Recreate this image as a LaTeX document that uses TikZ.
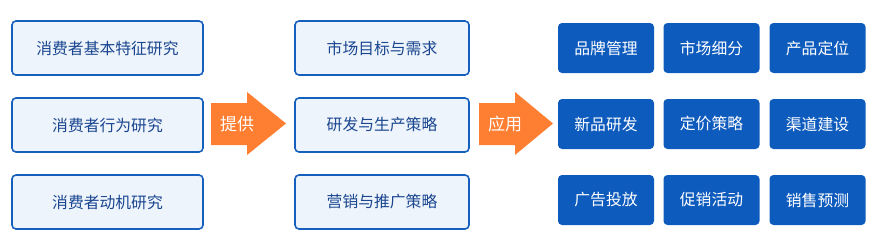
\documentclass[tikz,border=0pt]{standalone}
\usepackage{fontspec}
\setmainfont{Noto Sans CJK SC}
\definecolor{bd}{HTML}{1560BD}
\definecolor{lf}{HTML}{EEF4FB}
\definecolor{tx}{HTML}{1A4690}
\definecolor{df}{HTML}{0E5BBE}
\definecolor{og}{HTML}{FF7F32}
\begin{document}
\begin{tikzpicture}[x=1pt,y=-1pt,
  lbox/.style={draw=bd,line width=1.6pt,fill=lf,rounded corners=4pt,text=tx,font=\fontsize{15.8}{18}\selectfont,inner sep=0pt},
  dbox/.style={fill=df,rounded corners=4pt,text=white,font=\fontsize{15.8}{18}\selectfont,inner sep=0pt,minimum width=96pt,minimum height=50pt},
  alabel/.style={text=white,font=\fontsize{17}{19}\selectfont,anchor=west,inner sep=0pt},
  arr/.style={fill=og}]
\useasboundingbox (0,0) rectangle (879,244);
% left column
\node[lbox,minimum width=191pt,minimum height=54pt] (l1) at (107.5,48) {消费者基本特征研究};
\node[lbox,minimum width=191pt,minimum height=54pt] (l2) at (107.5,125) {消费者行为研究};
\node[lbox,minimum width=191pt,minimum height=54pt] (l3) at (107.5,202) {消费者动机研究};
% middle column
\node[lbox,minimum width=174pt,minimum height=54pt] (m1) at (382,48) {市场目标与需求};
\node[lbox,minimum width=174pt,minimum height=54pt] (m2) at (382,125) {研发与生产策略};
\node[lbox,minimum width=174pt,minimum height=54pt] (m3) at (382,202) {营销与推广策略};
% arrows
\fill[arr] (211,103) -- (247,103) -- (247,92) -- (286,123.5) -- (247,155) -- (247,145) -- (211,145) -- cycle;
\node[alabel] (a1) at (220,124) {提供};
\fill[arr] (479,103) -- (515,103) -- (515,92) -- (553,123.5) -- (515,155) -- (515,145) -- (479,145) -- cycle;
\node[alabel] (a2) at (488,124) {应用};
% right grid
\node[dbox] (r11) at (606,48) {品牌管理};
\node[dbox] (r12) at (711.5,48) {市场细分};
\node[dbox] (r13) at (817.5,48) {产品定位};
\node[dbox] (r21) at (606,124) {新品研发};
\node[dbox] (r22) at (711.5,124) {定价策略};
\node[dbox] (r23) at (817.5,124) {渠道建设};
\node[dbox] (r31) at (606,200) {广告投放};
\node[dbox] (r32) at (711.5,200) {促销活动};
\node[dbox] (r33) at (817.5,200) {销售预测};
\end{tikzpicture}
\end{document}
